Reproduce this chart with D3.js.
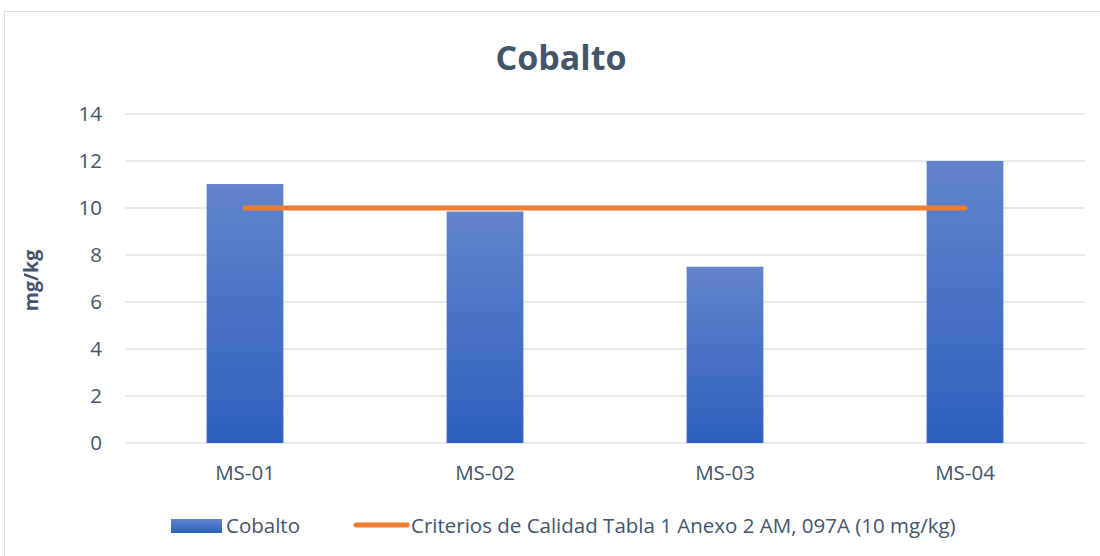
<!DOCTYPE html>
<html>
<head>
<meta charset="utf-8">
<script src="https://cdn.jsdelivr.net/npm/d3@7"></script>
<style>
  html, body { margin: 0; padding: 0; background: #fff; }
  svg { display: block; font-family: "Open Sans", "Lato", sans-serif; }
</style>
</head>
<body>
<svg id="chart" width="1100" height="556"></svg>
<script>
// Cobalt concentration per sampling point, with the quality criterion
const categories = ["MS-01", "MS-02", "MS-03", "MS-04"];
const cobaltValues = [11.02, 9.85, 7.5, 12.0];
const criterionValues = [10, 10, 10, 10];
const yTicks = [0, 2, 4, 6, 8, 10, 12, 14];
const titleText = "Cobalto";
const yLabel = "mg/kg";
const barLegend = "Cobalto";
const lineLegend = "Criterios de Calidad Tabla 1 Anexo 2 AM, 097A (10 mg/kg)";

const svg = d3.select("#chart");
const W = 1100, H = 556;
const plot = { left: 125, right: 1085, top: 114, bottom: 443 };
const textColor = "#44546a";

// outer frame
svg.append("rect")
  .attr("x", 4.5).attr("y", 11.5)
  .attr("width", W + 10).attr("height", H + 10)
  .attr("fill", "#fff").attr("stroke", "#d9dde4").attr("stroke-width", 1);

const defs = svg.append("defs");
const grad = defs.append("linearGradient")
  .attr("id", "barGrad").attr("x1", 0).attr("y1", 0).attr("x2", 0).attr("y2", 1);
grad.append("stop").attr("offset", "0%").attr("stop-color", "#6284cb");
grad.append("stop").attr("offset", "100%").attr("stop-color", "#2e5fbf");

const x = d3.scaleBand().domain(categories)
  .range([plot.left, plot.right]).paddingInner(0.68).paddingOuter(0.34);
const y = d3.scaleLinear().domain([0, 14]).range([plot.bottom, plot.top]);

// horizontal gridlines
svg.append("g")
  .selectAll("line").data(yTicks).join("line")
  .attr("x1", plot.left).attr("x2", plot.right)
  .attr("y1", d => y(d)).attr("y2", d => y(d))
  .attr("stroke", "#dfe3ea").attr("stroke-width", 1.3);

// y tick labels
const yAxis = d3.axisLeft(y).tickValues(yTicks).tickSize(0).tickPadding(0);
const gy = svg.append("g").attr("transform", `translate(${plot.left - 23},0)`).call(yAxis);
gy.select(".domain").remove();
gy.selectAll("text")
  .attr("fill", textColor).attr("font-size", 20.5)
  .attr("font-family", "Open Sans, sans-serif");

// x tick labels
const xAxis = d3.axisBottom(x).tickSize(0).tickPadding(0);
const gx = svg.append("g").attr("transform", `translate(0,${plot.bottom + 22})`).call(xAxis);
gx.select(".domain").remove();
gx.selectAll("text")
  .attr("fill", textColor).attr("font-size", 20.5)
  .attr("font-family", "Open Sans, sans-serif");

// bars
svg.append("g")
  .selectAll("rect").data(cobaltValues).join("rect")
  .attr("x", (d, i) => x(categories[i]))
  .attr("width", x.bandwidth())
  .attr("y", d => y(d))
  .attr("height", d => y(0) - y(d))
  .attr("fill", "url(#barGrad)");

// criterion line
const line = d3.line()
  .x((d, i) => x(categories[i]) + x.bandwidth() / 2)
  .y(d => y(d));
svg.append("path")
  .datum(criterionValues)
  .attr("d", line)
  .attr("fill", "none")
  .attr("stroke", "#ed7d31")
  .attr("stroke-width", 5)
  .attr("stroke-linecap", "round");

// title
svg.append("text")
  .attr("x", 561).attr("y", 70)
  .attr("text-anchor", "middle")
  .attr("font-size", 34).attr("font-weight", "bold")
  .attr("fill", textColor)
  .text(titleText);

// y axis title
svg.append("text")
  .attr("transform", `translate(38,${(plot.top + plot.bottom) / 2 + 2}) rotate(-90)`)
  .attr("text-anchor", "middle")
  .attr("font-size", 19.5).attr("font-weight", "bold")
  .attr("fill", textColor)
  .text(yLabel);

// legend
const lg = svg.append("g");
lg.append("rect")
  .attr("x", 171).attr("y", 519).attr("width", 51).attr("height", 14)
  .attr("fill", "url(#barGrad)");
lg.append("text")
  .attr("x", 226).attr("y", 533)
  .attr("font-size", 20.5).attr("fill", textColor)
  .text(barLegend);
lg.append("line")
  .attr("x1", 356).attr("x2", 407).attr("y1", 525).attr("y2", 525)
  .attr("stroke", "#ed7d31").attr("stroke-width", 5).attr("stroke-linecap", "round");
lg.append("text")
  .attr("x", 411).attr("y", 533)
  .attr("font-size", 20.5).attr("fill", textColor)
  .text(lineLegend);
</script>
</body>
</html>
